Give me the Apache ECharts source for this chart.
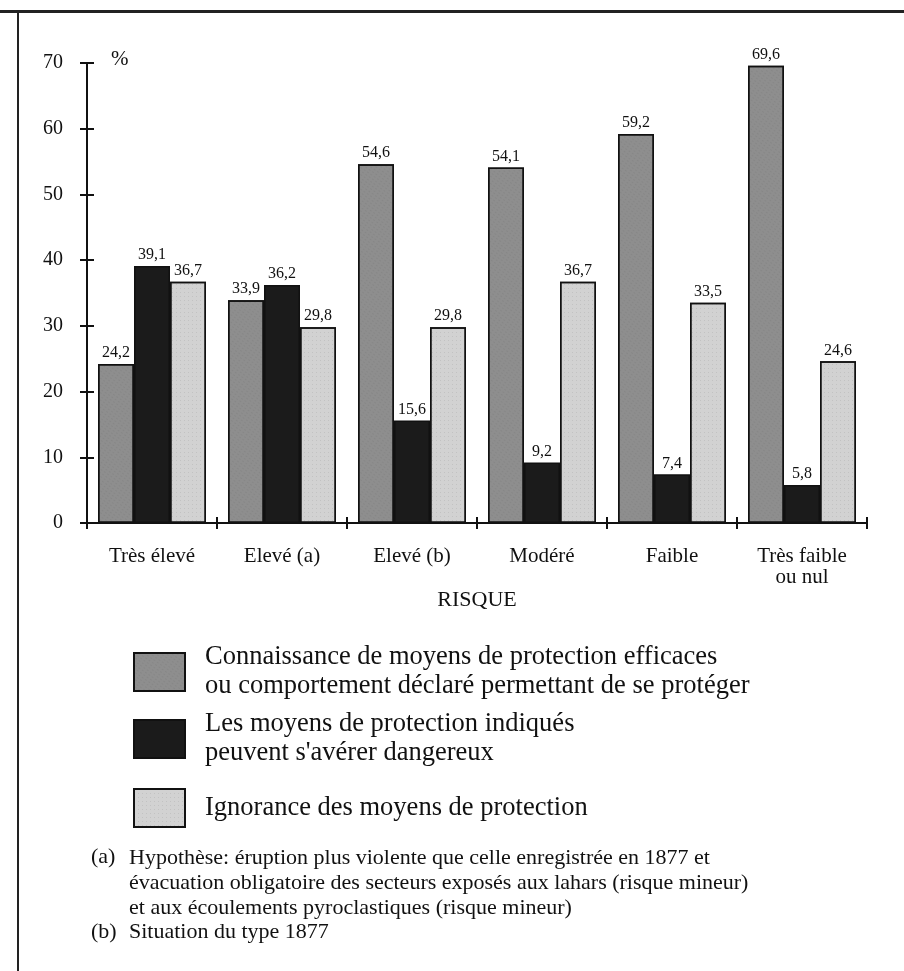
<!DOCTYPE html>
<html>
<head>
<meta charset="utf-8">
<script src="https://cdn.jsdelivr.net/npm/echarts@6/dist/echarts.min.js"></script>
<style>
html,body{margin:0;padding:0;background:#fff;}
#chart{width:904px;height:971px;}
</style>
</head>
<body>
<div id="chart"></div>
<script>
var categories = ['Très élevé', 'Elevé (a)', 'Elevé (b)', 'Modéré', 'Faible', 'Très faible\nou nul'];
var connaissance = [24.2, 33.9, 54.6, 54.1, 59.2, 69.6];
var dangereux = [39.1, 36.2, 15.6, 9.2, 7.4, 5.8];
var ignorance = [36.7, 29.8, 29.8, 36.7, 33.5, 24.6];
var seriesNames = [
  'Connaissance de moyens de protection efficaces\nou comportement déclaré permettant de se protéger',
  'Les moyens de protection indiqués\npeuvent s\'avérer dangereux',
  'Ignorance des moyens de protection'
];
var footnoteMarks = ['(a)', '(b)'];
var footnoteA = [
  'Hypothèse: éruption plus violente que celle enregistrée en 1877 et',
  'évacuation obligatoire des secteurs exposés aux lahars (risque mineur)',
  'et aux écoulements pyroclastiques (risque mineur)'
];
var footnoteB = 'Situation du type 1877';

var FONT = '"Liberation Serif", "Times New Roman", serif';
var chart = echarts.init(document.getElementById('chart'));

function fmt(p){ return String(p.value).replace('.', ','); }

function mkSeries(name, data, color, decal, labelBg){
  return {
    name: name, type: 'bar', data: data,
    xAxisIndex: 0, yAxisIndex: 0,
    barWidth: 36, barGap: '0%',
    itemStyle: {color: color, borderColor: '#111', borderWidth: 1.5, decal: decal},
    label: {show: true, position: 'top', distance: 3, formatter: fmt,
      fontFamily: FONT, fontSize: 16, color: '#111',
      backgroundColor: labelBg, padding: labelBg ? [1, 2, 0, 2] : 0}
  };
}

var decalDark = {symbol: 'rect', symbolSize: 0.5, dashArrayX: [2, 2], dashArrayY: [1, 2], rotation: 0.6, color: 'rgba(60,60,60,0.35)'};
var decalLight = {symbol: 'rect', symbolSize: 0.6, dashArrayX: [1, 3], dashArrayY: [1, 3], rotation: 0, color: 'rgba(90,90,90,0.45)'};

var legendBase = {
  orient: 'vertical', itemWidth: 51, itemHeight: 38, selectedMode: false,
  icon: 'rect', padding: 0,
  textStyle: {fontFamily: FONT, fontSize: 26.5, color: '#111', lineHeight: 29, padding: [0, 0, 0, 15]},
  itemGap: 10
};

var option = {
  backgroundColor: '#fff',
  animation: false,
  grid: {left: 87, right: 37, top: 63, bottom: 448, containLabel: false},
  xAxis: [{
    type: 'category', data: categories, position: 'bottom',
    axisLine: {show: true, lineStyle: {color: '#111', width: 2}},
    axisTick: {show: true, inside: false, length: 6, lineStyle: {color: '#111', width: 2}},
    axisLabel: {fontFamily: FONT, fontSize: 21, color: '#111', margin: 23, lineHeight: 21},
    name: 'RISQUE', nameLocation: 'middle', nameGap: 57,
    nameTextStyle: {fontFamily: FONT, fontSize: 22, color: '#111'}
  }, {
    type: 'category', data: categories, position: 'bottom',
    axisLine: {show: false},
    axisTick: {show: true, inside: true, length: 6, lineStyle: {color: '#111', width: 2}},
    axisLabel: {show: false}
  }],
  yAxis: [{
    type: 'value', min: 0, max: 70, interval: 10,
    axisLine: {show: true, lineStyle: {color: '#111', width: 2}},
    axisTick: {show: true, inside: false, length: 7, lineStyle: {color: '#111', width: 2}},
    axisLabel: {fontFamily: FONT, fontSize: 20, color: '#111', margin: 24},
    splitLine: {show: false}
  }, {
    type: 'value', min: 0, max: 70, interval: 10, position: 'left',
    axisLine: {show: false},
    axisTick: {show: true, inside: true, length: 7, lineStyle: {color: '#111', width: 2}},
    axisLabel: {show: false},
    splitLine: {show: false}
  }],
  legend: [
    Object.assign({}, legendBase, {data: [seriesNames[0]], left: 133, top: 643}),
    Object.assign({}, legendBase, {data: [seriesNames[1]], left: 133, top: 710}),
    Object.assign({}, legendBase, {data: [seriesNames[2]], left: 133, top: 788})
  ],
  series: [
    mkSeries(seriesNames[0], connaissance, '#8e8e8e', decalDark, null),
    mkSeries(seriesNames[1], dangereux, '#1b1b1b', null, '#fff'),
    mkSeries(seriesNames[2], ignorance, '#d2d2d2', decalLight, null)
  ],
  graphic: [
    {type: 'text', left: 111, top: 49, style: {text: '%', font: '21px ' + FONT, fill: '#111'}},
    {type: 'rect', shape: {x: 0, y: 10, width: 904, height: 3}, style: {fill: '#222'}},
    {type: 'rect', shape: {x: 17, y: 10, width: 2, height: 961}, style: {fill: '#222'}},
    {type: 'text', left: 91, top: 846, style: {text: footnoteMarks[0], font: '22px ' + FONT, fill: '#111'}},
    {type: 'text', left: 129, top: 846, style: {text: footnoteA.join('\n'), font: '22px ' + FONT, fill: '#111', lineHeight: 25}},
    {type: 'text', left: 91, top: 921, style: {text: footnoteMarks[1], font: '22px ' + FONT, fill: '#111'}},
    {type: 'text', left: 129, top: 921, style: {text: footnoteB, font: '22px ' + FONT, fill: '#111'}}
  ]
};
chart.setOption(option);
</script>
</body>
</html>
